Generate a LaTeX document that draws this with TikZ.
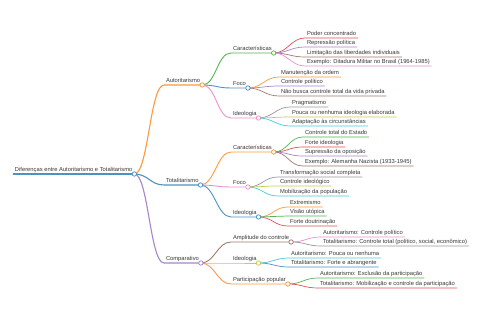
\documentclass[tikz,border=0pt]{standalone}
\usepackage{fontspec}
\setmainfont{Liberation Sans}
\definecolor{cBlue}{HTML}{1F77B4}
\definecolor{cOrange}{HTML}{FF7F0E}
\definecolor{cGreen}{HTML}{2CA02C}
\definecolor{cRed}{HTML}{D62728}
\definecolor{cPurple}{HTML}{9467BD}
\definecolor{cBrown}{HTML}{8C564B}
\definecolor{cPink}{HTML}{E377C2}
\definecolor{cGray}{HTML}{7F7F7F}
\definecolor{cOlive}{HTML}{BCBD22}
\definecolor{cCyan}{HTML}{17BECF}
\begin{document}
\begin{tikzpicture}[x=1pt,y=-1pt,
  lbl/.style={anchor=south west, inner xsep=1.8pt, inner ysep=1.8pt, text depth=0pt,
    font=\fontsize{5.8}{7}\selectfont, text=black!78},
  dot/.style={circle, draw=#1!85!white, fill=white, inner sep=0pt, minimum size=4.4pt, line width=0.7pt},
  lk/.style={draw=#1!80!white, line width=0.7pt},
  lkA/.style={draw=#1!80!white, line width=0.9pt},
  lkB/.style={draw=#1!80!white, line width=1.1pt}]
\useasboundingbox[fill=white] (0,0) rectangle (480,320);

% nodes
\node[lbl] (R) at (13,174) {Diferenças entre Autoritarismo e Totalitarismo};
\node[lbl] (A) at (164,85) {Autoritarismo};
\node[lbl] (T) at (164,185) {Totalitarismo};
\node[lbl] (C) at (164,263) {Comparativo};

\node[lbl] (A1) at (231,53) {Características};
\node[lbl] (A2) at (231,88) {Foco};
\node[lbl] (A3) at (231,118) {Ideologia};
\node[lbl] (A11) at (305,38) {Poder concentrado};
\node[lbl] (A12) at (305,47) {Repressão política};
\node[lbl] (A13) at (305,57) {Limitação das liberdades individuais};
\node[lbl] (A14) at (305,66) {Exemplo: Ditadura Militar no Brasil (1964-1985)};
\node[lbl] (A21) at (279,77) {Manutenção da ordem};
\node[lbl] (A22) at (279,86) {Controle político};
\node[lbl] (A23) at (279,96) {Não busca controle total da vida privada};
\node[lbl] (A31) at (290,107) {Pragmatismo};
\node[lbl] (A32) at (290,117) {Pouca ou nenhuma ideologia elaborada};
\node[lbl] (A33) at (290,126) {Adaptação às circunstâncias};

\node[lbl] (T1) at (231,152) {Características};
\node[lbl] (T2) at (231,187) {Foco};
\node[lbl] (T3) at (231,217) {Ideologia};
\node[lbl] (T11) at (303,137) {Controle total do Estado};
\node[lbl] (T12) at (303,147) {Forte ideologia};
\node[lbl] (T13) at (303,156) {Supressão da oposição};
\node[lbl] (T14) at (303,166) {Exemplo: Alemanha Nazista (1933-1945)};
\node[lbl] (T21) at (278,177) {Transformação social completa};
\node[lbl] (T22) at (278,186) {Controle ideológico};
\node[lbl] (T23) at (278,196) {Mobilização da população};
\node[lbl] (T31) at (288,207) {Extremismo};
\node[lbl] (T32) at (288,216) {Visão utópica};
\node[lbl] (T33) at (288,226) {Forte doutrinação};

\node[lbl] (C1) at (231,242) {Amplitude do controle};
\node[lbl] (C2) at (231,263) {Ideologia};
\node[lbl] (C3) at (231,284) {Participação popular};
\node[lbl] (C11) at (321,237) {Autoritarismo: Controle político};
\node[lbl] (C12) at (321,246) {Totalitarismo: Controle total (político, social, econômico)};
\node[lbl] (C21) at (289,258) {Autoritarismo: Pouca ou nenhuma};
\node[lbl] (C22) at (289,267) {Totalitarismo: Forte e abrangente};
\node[lbl] (C31) at (318,278) {Autoritarismo: Exclusão da participação};
\node[lbl] (C32) at (318,288) {Totalitarismo: Mobilização e controle da participação};

% root line
\draw[lkB=cBlue] (R.south west) -- (R.south east);

% level 1
\draw[lkB=cOrange] (R.south east) .. controls +(14,0) and +(-14,0) .. (A.south west) -- (A.south east);
\draw[lkB=cBlue] (R.south east) .. controls +(14,0) and +(-14,0) .. (T.south west) -- (T.south east);
\draw[lkB=cPurple] (R.south east) .. controls +(14,0) and +(-14,0) .. (C.south west) -- (C.south east);

% level 2
\draw[lkA=cGreen] (A.south east) .. controls +(14,0) and +(-14,0) .. (A1.south west) -- (A1.south east);
\draw[lkA=cBlue] (A.south east) .. controls +(14,0) and +(-14,0) .. (A2.south west) -- (A2.south east);
\draw[lkA=cPink] (A.south east) .. controls +(14,0) and +(-14,0) .. (A3.south west) -- (A3.south east);
\draw[lkA=cOrange] (T.south east) .. controls +(14,0) and +(-14,0) .. (T1.south west) -- (T1.south east);
\draw[lkA=cPink] (T.south east) .. controls +(14,0) and +(-14,0) .. (T2.south west) -- (T2.south east);
\draw[lkA=cBlue] (T.south east) .. controls +(14,0) and +(-14,0) .. (T3.south west) -- (T3.south east);
\draw[lkA=cBrown] (C.south east) .. controls +(14,0) and +(-14,0) .. (C1.south west) -- (C1.south east);
\draw[lkA=cOlive] (C.south east) .. controls +(14,0) and +(-14,0) .. (C2.south west) -- (C2.south east);
\draw[lkA=cOrange] (C.south east) .. controls +(14,0) and +(-14,0) .. (C3.south west) -- (C3.south east);

% level 3
\draw[lk=cRed] (A1.south east) .. controls +(14,0) and +(-14,0) .. (A11.south west) -- (A11.south east);
\draw[lk=cPurple] (A1.south east) .. controls +(14,0) and +(-14,0) .. (A12.south west) -- (A12.south east);
\draw[lk=cBrown] (A1.south east) .. controls +(14,0) and +(-14,0) .. (A13.south west) -- (A13.south east);
\draw[lk=cPink] (A1.south east) .. controls +(14,0) and +(-14,0) .. (A14.south west) -- (A14.south east);
\draw[lk=cOrange] (A2.south east) .. controls +(14,0) and +(-14,0) .. (A21.south west) -- (A21.south east);
\draw[lk=cPurple] (A2.south east) .. controls +(14,0) and +(-14,0) .. (A22.south west) -- (A22.south east);
\draw[lk=cBrown] (A2.south east) .. controls +(14,0) and +(-14,0) .. (A23.south west) -- (A23.south east);
\draw[lk=cGray] (A3.south east) .. controls +(14,0) and +(-14,0) .. (A31.south west) -- (A31.south east);
\draw[lk=cOlive] (A3.south east) .. controls +(14,0) and +(-14,0) .. (A32.south west) -- (A32.south east);
\draw[lk=cCyan] (A3.south east) .. controls +(14,0) and +(-14,0) .. (A33.south west) -- (A33.south east);

\draw[lk=cGreen] (T1.south east) .. controls +(14,0) and +(-14,0) .. (T11.south west) -- (T11.south east);
\draw[lk=cRed] (T1.south east) .. controls +(14,0) and +(-14,0) .. (T12.south west) -- (T12.south east);
\draw[lk=cPurple] (T1.south east) .. controls +(14,0) and +(-14,0) .. (T13.south west) -- (T13.south east);
\draw[lk=cBrown] (T1.south east) .. controls +(14,0) and +(-14,0) .. (T14.south west) -- (T14.south east);
\draw[lk=cGray] (T2.south east) .. controls +(14,0) and +(-14,0) .. (T21.south west) -- (T21.south east);
\draw[lk=cOlive] (T2.south east) .. controls +(14,0) and +(-14,0) .. (T22.south west) -- (T22.south east);
\draw[lk=cCyan] (T2.south east) .. controls +(14,0) and +(-14,0) .. (T23.south west) -- (T23.south east);
\draw[lk=cOrange] (T3.south east) .. controls +(14,0) and +(-14,0) .. (T31.south west) -- (T31.south east);
\draw[lk=cGreen] (T3.south east) .. controls +(14,0) and +(-14,0) .. (T32.south west) -- (T32.south east);
\draw[lk=cRed] (T3.south east) .. controls +(14,0) and +(-14,0) .. (T33.south west) -- (T33.south east);

\draw[lk=cPink] (C1.south east) .. controls +(14,0) and +(-14,0) .. (C11.south west) -- (C11.south east);
\draw[lk=cGray] (C1.south east) .. controls +(14,0) and +(-14,0) .. (C12.south west) -- (C12.south east);
\draw[lk=cCyan] (C2.south east) .. controls +(14,0) and +(-14,0) .. (C21.south west) -- (C21.south east);
\draw[lk=cBlue] (C2.south east) .. controls +(14,0) and +(-14,0) .. (C22.south west) -- (C22.south east);
\draw[lk=cGreen] (C3.south east) .. controls +(14,0) and +(-14,0) .. (C31.south west) -- (C31.south east);
\draw[lk=cRed] (C3.south east) .. controls +(14,0) and +(-14,0) .. (C32.south west) -- (C32.south east);

% circles
\node[dot=cBlue] (dR) at (R.south east) {};
\node[dot=cOrange] (dA) at (A.south east) {};
\node[dot=cBlue] (dT) at (T.south east) {};
\node[dot=cPurple] (dC) at (C.south east) {};
\node[dot=cGreen] (dA1) at (A1.south east) {};
\node[dot=cBlue] (dA2) at (A2.south east) {};
\node[dot=cPink] (dA3) at (A3.south east) {};
\node[dot=cOrange] (dT1) at (T1.south east) {};
\node[dot=cPink] (dT2) at (T2.south east) {};
\node[dot=cBlue] (dT3) at (T3.south east) {};
\node[dot=cBrown] (dC1) at (C1.south east) {};
\node[dot=cOlive] (dC2) at (C2.south east) {};
\node[dot=cOrange] (dC3) at (C3.south east) {};
\end{tikzpicture}
\end{document}
